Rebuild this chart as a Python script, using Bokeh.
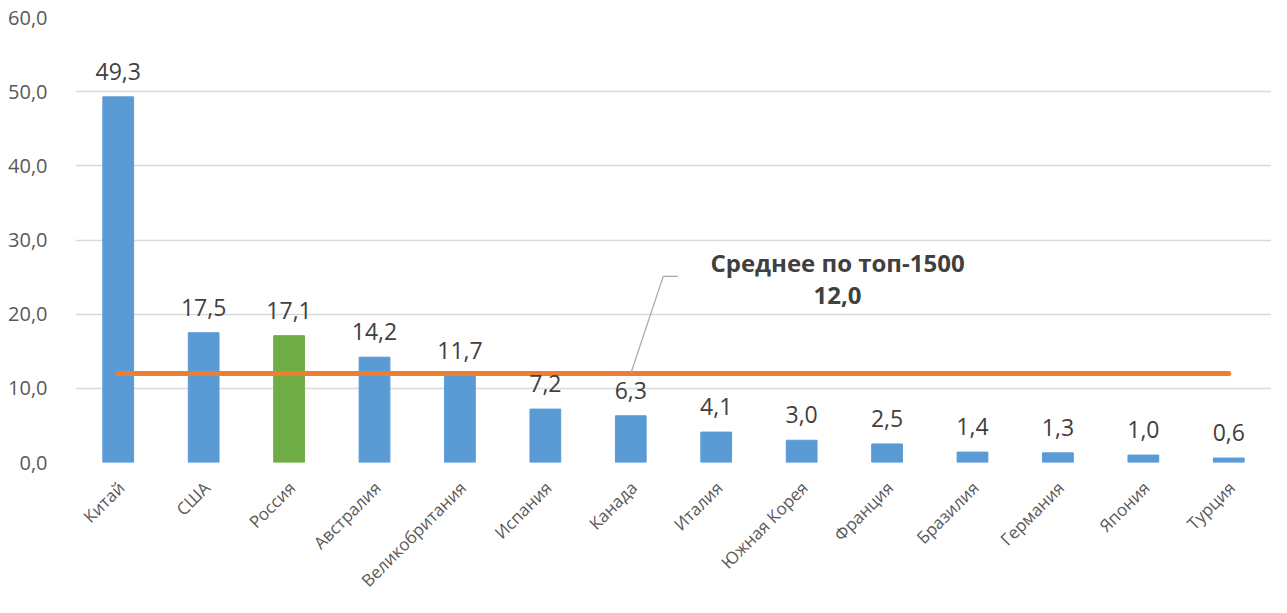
import math
from bokeh.plotting import figure
from bokeh.models import ColumnDataSource, FixedTicker, CustomJSTickFormatter, Range1d
from bokeh.core.properties import value
from bokeh.embed import file_html
from bokeh.resources import INLINE

categories = ["Китай", "США", "Россия", "Австралия", "Великобритания", "Испания", "Канада",
              "Италия", "Южная Корея", "Франция", "Бразилия", "Германия", "Япония", "Турция"]
values = [49.3, 17.5, 17.1, 14.2, 11.7, 7.2, 6.3, 4.1, 3.0, 2.5, 1.4, 1.3, 1.0, 0.6]
highlight = "Россия"
average = 12.0
average_label = "Среднее по топ-1500"
y_ticks = [0, 10, 20, 30, 40, 50, 60]
leader_x = [6.0, 6.38, 6.55]
leader_y = [12.0, 25.1, 25.1]
note_x = [8.42, 8.42]
note_y = [27.0, 22.5]

BLUE = "#5B9BD5"
GREEN = "#70AD47"
ORANGE = "#ED7D31"
FONT = "Open Sans"

idx = list(range(len(categories)))
colors = [GREEN if c == highlight else BLUE for c in categories]
labels = [f"{v:.1f}".replace(".", ",") for v in values]

src = ColumnDataSource(dict(x=idx, top=values, color=colors, label=labels,
                            base=[0] * len(idx), cat=categories))

p = figure(width=1271, height=597, output_backend="svg", toolbar_location=None,
           x_range=Range1d(-0.5, len(categories) - 0.5), y_range=Range1d(0, 60),
           min_border_left=75, min_border_right=0, min_border_top=17, min_border_bottom=135)
p.outline_line_color = None
p.background_fill_color = "white"
p.border_fill_color = "white"

p.vbar(x="x", top="top", width=0.36, color="color", source=src)

p.line(x=idx, y=[average] * len(idx), line_color=ORANGE, line_width=5, line_cap="round")

p.text(x="x", y="top", text="label", source=src, text_align="center", text_baseline="bottom",
       y_offset=-17, text_font=value(FONT), text_font_size="23px", text_color="#404040")

# category labels (rotated)
p.text(x="x", y="base", text="cat", source=src, angle=math.pi / 4, text_align="right",
       text_baseline="middle", x_offset=3, y_offset=22, text_font=value(FONT),
       text_font_size="17px", text_color="#595959", level="overlay")

p.line(x=leader_x, y=leader_y, line_color="#A6A6A6", line_width=1.2)

note_src = ColumnDataSource(dict(x=note_x, y=note_y,
                                 t=[average_label, f"{average:.1f}".replace(".", ",")]))
p.text(x="x", y="y", text="t", source=note_src, text_align="center", text_baseline="middle",
       text_font=value(FONT), text_font_size="24px", text_font_style="bold", text_color="#404040")

p.xgrid.grid_line_color = None
p.ygrid.grid_line_color = "#D9D9D9"
p.ygrid.grid_line_width = 1.3
p.ygrid.ticker = FixedTicker(ticks=y_ticks)

ya = p.yaxis[0]
ya.ticker = FixedTicker(ticks=y_ticks)
ya.formatter = CustomJSTickFormatter(code="return tick.toFixed(1).replace('.', ',');")
ya.axis_line_color = None
ya.major_tick_line_color = None
ya.minor_tick_line_color = None
ya.major_label_standoff = 22
ya.major_label_text_font = FONT
ya.major_label_text_font_size = "20px"
ya.major_label_text_color = "#595959"

p.xaxis.visible = False

open("out.html", "w").write(file_html(p, INLINE))
